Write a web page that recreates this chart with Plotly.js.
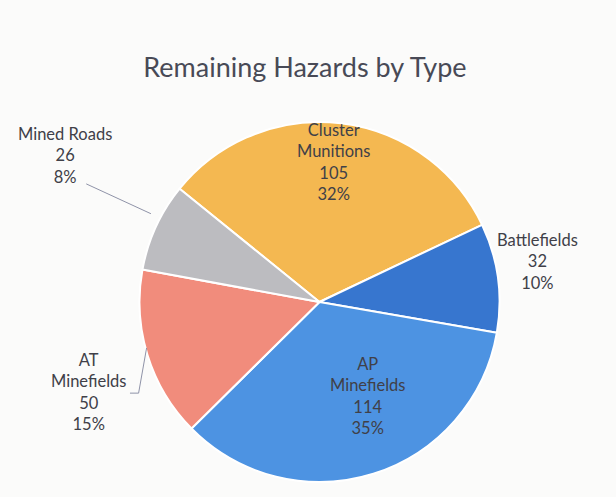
<!DOCTYPE html>
<html><head><meta charset="utf-8">
<script src="https://cdn.plot.ly/plotly-3.0.1.min.js"></script>
<style>html,body{margin:0;padding:0;background:#fbfbfa;}</style>
</head><body>
<div id="chart" style="width:616px;height:497px;"></div>
<script>
var categories = ["Cluster Munitions", "Battlefields", "AP Minefields", "AT Minefields", "Mined Roads"];
var labelLines = [["Cluster", "Munitions"], ["Battlefields"], ["AP", "Minefields"], ["AT", "Minefields"], ["Mined Roads"]];
var values = [105, 32, 114, 50, 26];
var sliceColors = ["#f4b851", "#3776cf", "#4d93e2", "#f18c7c", "#bcbcc0"];

var total = values.reduce(function(a, b){ return a + b; }, 0);
function labelText(i) {
  var pct = Math.round(values[i] / total * 100) + "%";
  return labelLines[i].concat([String(values[i]), pct]).join("<br>");
}

// label anchor positions (paper coords) — layout only
var labelPos = [[0.541, 0.674], [0.873, 0.473], [0.597, 0.203], [0.143, 0.211], [0.105, 0.688]];

var annotations = [];
for (var i = 0; i < categories.length; i++) {
  annotations.push({
    xref: "paper", yref: "paper", x: labelPos[i][0], y: labelPos[i][1],
    xanchor: "center", yanchor: "middle", showarrow: false,
    text: labelText(i), align: "center",
    font: {family: "Lato, 'Open Sans', sans-serif", size: 16.5, color: "#404048"}
  });
}

var data = [{
  type: "pie",
  labels: categories,
  values: values,
  sort: false,
  direction: "clockwise",
  rotation: -51,
  textinfo: "none",
  hoverinfo: "label+value+percent",
  marker: {colors: sliceColors, line: {color: "#ffffff", width: 2}},
  domain: {x: [0.2224, 0.8149], y: [0.0302, 0.7545]},
  showlegend: false
}];

var layout = {
  width: 616, height: 497,
  margin: {l: 0, r: 0, t: 0, b: 0},
  paper_bgcolor: "#fbfbfa",
  title: {text: "Remaining Hazards by Type", x: 0.495, xanchor: "center", y: 0.865, yanchor: "middle",
          font: {family: "Lato, 'Open Sans', sans-serif", size: 27, color: "#484a56"}},
  annotations: annotations,
  shapes: [
    {type: "path", xref: "paper", yref: "paper", path: "M 0.140,0.630 L 0.245,0.570",
     line: {color: "#8f93a8", width: 1}},
    {type: "path", xref: "paper", yref: "paper", path: "M 0.211,0.209 L 0.225,0.209 L 0.238,0.300",
     line: {color: "#8f93a8", width: 1}}
  ]
};

Plotly.newPlot("chart", data, layout, {displayModeBar: false, staticPlot: true});
</script>
</body></html>
